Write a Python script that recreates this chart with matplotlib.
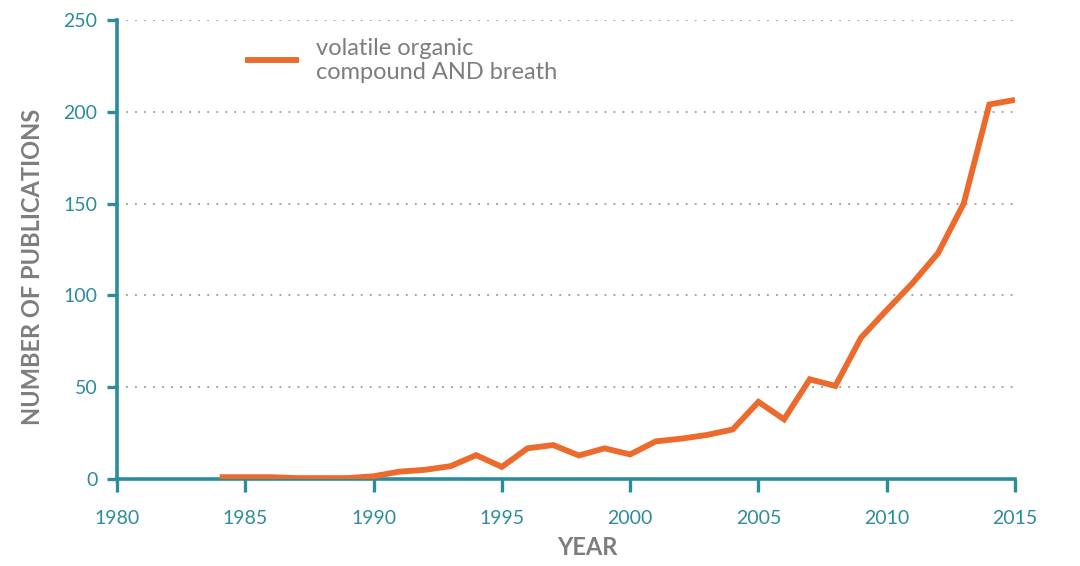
import matplotlib
matplotlib.use("Agg")
import matplotlib.pyplot as plt

# publications per year
years = [1984, 1985, 1986, 1987, 1988, 1989, 1990, 1991, 1992, 1993, 1994,
         1995, 1996, 1997, 1998, 1999, 2000, 2001, 2002, 2003, 2004, 2005,
         2006, 2007, 2008, 2009, 2010, 2011, 2012, 2013, 2014, 2015]
publications = [1, 1, 1, 0.5, 0.5, 0.5, 1.5, 4, 5, 7, 13,
                6.6, 16.7, 18.5, 12.8, 16.7, 13.4, 20.5, 22, 24, 27, 42,
                32.5, 54.3, 50.7, 77, 92, 106.6, 123, 150, 204, 206.5]
x_ticks = [1980, 1985, 1990, 1995, 2000, 2005, 2010, 2015]
y_ticks = [0, 50, 100, 150, 200, 250]
series_label = "volatile organic\ncompound AND breath"

teal = "#2b8c9b"
orange = "#ec6a2c"
grey = "#7d7d7d"

plt.rcParams['font.family'] = ['Lato', 'DejaVu Sans']

fig = plt.figure(figsize=(10.8, 5.66), dpi=100)
ax = fig.add_axes([117 / 1080, 1 - 479 / 566, 898 / 1080, 459 / 566])

ax.plot(years, publications, color=orange, lw=4.2, solid_joinstyle='miter',
        solid_capstyle='butt', zorder=3)

ax.set_xlim(1980, 2015)
ax.set_ylim(0, 250)
ax.set_xticks(x_ticks)
ax.set_yticks(y_ticks)

# dotted grid lines for the non-zero levels
for v in y_ticks[1:]:
    ax.axhline(v, color="#9a9a9a", lw=1.3, ls=(0, (1, 4)), zorder=1)

for side in ['top', 'right']:
    ax.spines[side].set_visible(False)
for side in ['left', 'bottom']:
    ax.spines[side].set_color(teal)
    ax.spines[side].set_linewidth(2.6)

ax.tick_params(axis='x', colors=teal, length=9, width=2.4, direction='out',
               pad=13, labelsize=14)
ax.tick_params(axis='y', colors=teal, length=7, width=2.4, direction='out',
               pad=7, labelsize=14)

ax.set_xlabel("YEAR", color=grey, fontsize=17, fontweight='bold')
ax.set_ylabel("NUMBER OF PUBLICATIONS", color=grey, fontsize=17,
              fontweight='bold')
ax.xaxis.set_label_coords((587 - 117) / 898, -(536 - 479) / 459)
ax.yaxis.set_label_coords(-(117 - 44) / 898, (479 - 267) / 459)

# legend drawn by hand like the original
ax.plot([1985, 1987.1], [228, 228], color=orange, lw=4.2, solid_capstyle='butt',
        transform=ax.transData, clip_on=False)
ax.text(1987.75, 228, series_label, color=grey, fontsize=17, va='center',
        ha='left', linespacing=1.15)

fig.savefig("out.png", dpi=100, facecolor="white")
